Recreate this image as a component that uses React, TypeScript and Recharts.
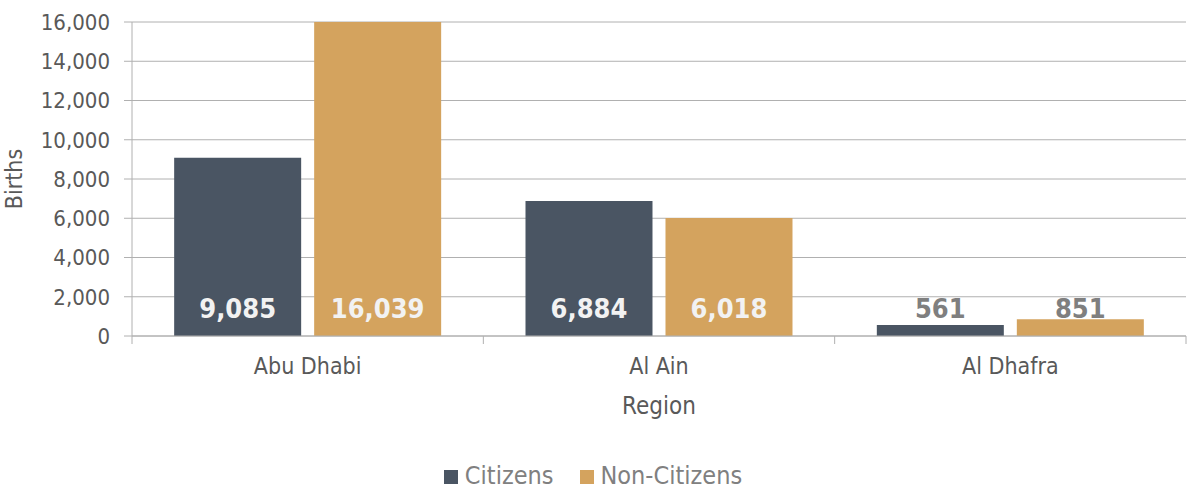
import { BarChart, Bar, XAxis, YAxis, CartesianGrid, Legend, LabelList } from 'recharts';

const regions = ['Abu Dhabi', 'Al Ain', 'Al Dhafra'];
const citizens = [9085, 6884, 561];
const nonCitizens = [16039, 6018, 851];
const yTicks = [0, 2000, 4000, 6000, 8000, 10000, 12000, 14000, 16000];
const edgeTicks = [0, 1, 2, 3];

const data = regions.map((region, i) => ({
  region,
  idx: i + 0.5,
  citizens: citizens[i],
  nonCitizens: nonCitizens[i],
}));

const FONT = "'DejaVu Sans Condensed', 'DejaVu Sans', sans-serif";
const AXIS = '#b0b0b0';
const TEXT = '#595959';

// label sits near the base of the bar; short bars get grey text
function baseLabel(props: any) {
  const { x, y, width, height, value } = props;
  const tall = height > 40;
  return (
    <text
      x={x + width / 2}
      y={y + height - 28}
      textAnchor="middle"
      dominantBaseline="central"
      fill={tall ? '#f2f2f2' : '#7f7f7f'}
      fontWeight="bold"
      fontSize={27}
      fontFamily={FONT}
    >
      {Number(value).toLocaleString('en-US')}
    </text>
  );
}

function renderLegend(props: any) {
  const { payload } = props;
  return (
    <div style={{ display: 'flex', justifyContent: 'center', gap: 26, fontFamily: FONT, fontSize: 25, color: '#808080' }}>
      {payload.map((p: any) => (
        <span key={p.value} style={{ display: 'flex', alignItems: 'center' }}>
          <span style={{ width: 14, height: 14, background: p.color, marginRight: 7, marginTop: 2 }} />
          <span>{p.value}</span>
        </span>
      ))}
    </div>
  );
}

export default function App() {
  return (
    <div style={{ position: 'absolute', left: 0, top: 0, width: 1189, height: 493, background: '#fff' }}>
      <BarChart
        width={1189}
        height={493}
        data={data}
        margin={{ top: 22, right: 3, left: 0, bottom: 43 }}
        barCategoryGap="12%"
        barGap={13}
      >
        <CartesianGrid xAxisId="b" horizontal vertical={false} stroke={AXIS} />
        <XAxis
          xAxisId="b"
          dataKey="region"
          axisLine={false}
          tickLine={false}
          tickSize={0}
          tickMargin={21}
          height={83}
          tick={{ fill: TEXT, fontSize: 23, fontFamily: FONT }}
          label={{
            content: (p: any) => (
              <text
                x={p.viewBox.x + p.viewBox.width / 2}
                y={p.viewBox.y + 69}
                textAnchor="middle"
                dominantBaseline="central"
                fill={TEXT}
                fontSize={24}
                fontFamily={FONT}
              >
                Region
              </text>
            ),
          }}
        />
        {/* boundary ticks between regions */}
        <XAxis
          xAxisId="a"
          dataKey="idx"
          type="number"
          domain={[0, 3]}
          allowDataOverflow
          ticks={edgeTicks}
          tickFormatter={() => ''}
          tickSize={8}
          height={1}
          axisLine={{ stroke: AXIS }}
          tickLine={{ stroke: AXIS }}
        />
        <YAxis
          width={132}
          domain={[0, 16000]}
          ticks={yTicks}
          allowDataOverflow
          tickSize={8}
          tickMargin={14}
          axisLine={{ stroke: AXIS }}
          tickLine={{ stroke: AXIS }}
          tick={{ fill: TEXT, fontSize: 22, fontFamily: FONT }}
          tickFormatter={(v: number) => v.toLocaleString('en-US')}
          label={{
            content: (p: any) => (
              <text
                x={14}
                y={p.viewBox.y + p.viewBox.height / 2}
                transform={`rotate(-90, 14, ${p.viewBox.y + p.viewBox.height / 2})`}
                textAnchor="middle"
                dominantBaseline="central"
                fill={TEXT}
                fontSize={23}
                fontFamily={FONT}
              >
                Births
              </text>
            ),
          }}
        />
        <Legend verticalAlign="bottom" height={30} content={renderLegend} wrapperStyle={{ bottom: 2 }} />
        <Bar xAxisId="b" dataKey="citizens" name="Citizens" fill="#4a5563" isAnimationActive={false}>
          <LabelList dataKey="citizens" content={baseLabel} />
        </Bar>
        <Bar xAxisId="b" dataKey="nonCitizens" name="Non-Citizens" fill="#d4a35e" isAnimationActive={false}>
          <LabelList dataKey="nonCitizens" content={baseLabel} />
        </Bar>
      </BarChart>
    </div>
  );
}
